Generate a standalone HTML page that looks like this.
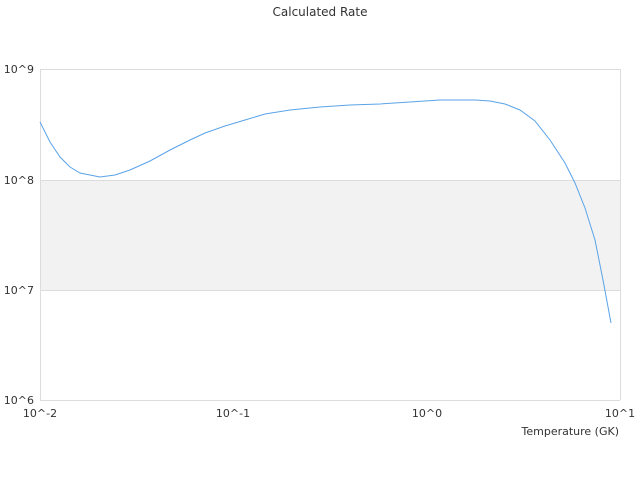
<!DOCTYPE html>
<html><head><style>body{margin:0;background:#fff}svg{display:block}text{font-family:"DejaVu Sans",sans-serif;fill:#333}</style></head>
<body>
<svg width="640" height="480" viewBox="0 0 640 480">
<text x="320" y="16" font-size="12" text-anchor="middle">Calculated Rate</text>
<rect x="40.5" y="180" width="580" height="110" fill="#f2f2f2"/>
<g stroke="#dcdcdc" stroke-width="1" fill="none">
<line x1="40" y1="69.5" x2="620" y2="69.5"/>
<line x1="40" y1="180.5" x2="620" y2="180.5"/>
<line x1="40" y1="290.5" x2="620" y2="290.5"/>
<line x1="40" y1="400.5" x2="620" y2="400.5"/>
<line x1="40.5" y1="69" x2="40.5" y2="400"/>
<line x1="620.5" y1="69" x2="620.5" y2="400"/>
</g>
<g font-size="11">
<text x="34" y="73" text-anchor="end">10^9</text>
<text x="34" y="184" text-anchor="end">10^8</text>
<text x="34" y="294" text-anchor="end">10^7</text>
<text x="34" y="404" text-anchor="end">10^6</text>
<text x="40" y="417" text-anchor="middle">10^-2</text>
<text x="233" y="417" text-anchor="middle">10^-1</text>
<text x="427" y="417" text-anchor="middle">10^0</text>
<text x="620" y="417" text-anchor="middle">10^1</text>
<text x="619" y="435" text-anchor="end">Temperature (GK)</text>
</g>
<polyline fill="none" stroke="#5aa3e8" stroke-width="1" points="40,122 50,142 60,157 70,167 80,173 100,177 115,175 130,170 150,161 170,150 190,140 205,133 225,126 245,120 265,114 290,110 320,107 350,105 380,104 410,102 440,100 475,100 490,101 505,104 520,110 535,121 550,140 565,163 575,183 585,208 595,240 603,280 611,323"/>
</svg>
</body></html>
